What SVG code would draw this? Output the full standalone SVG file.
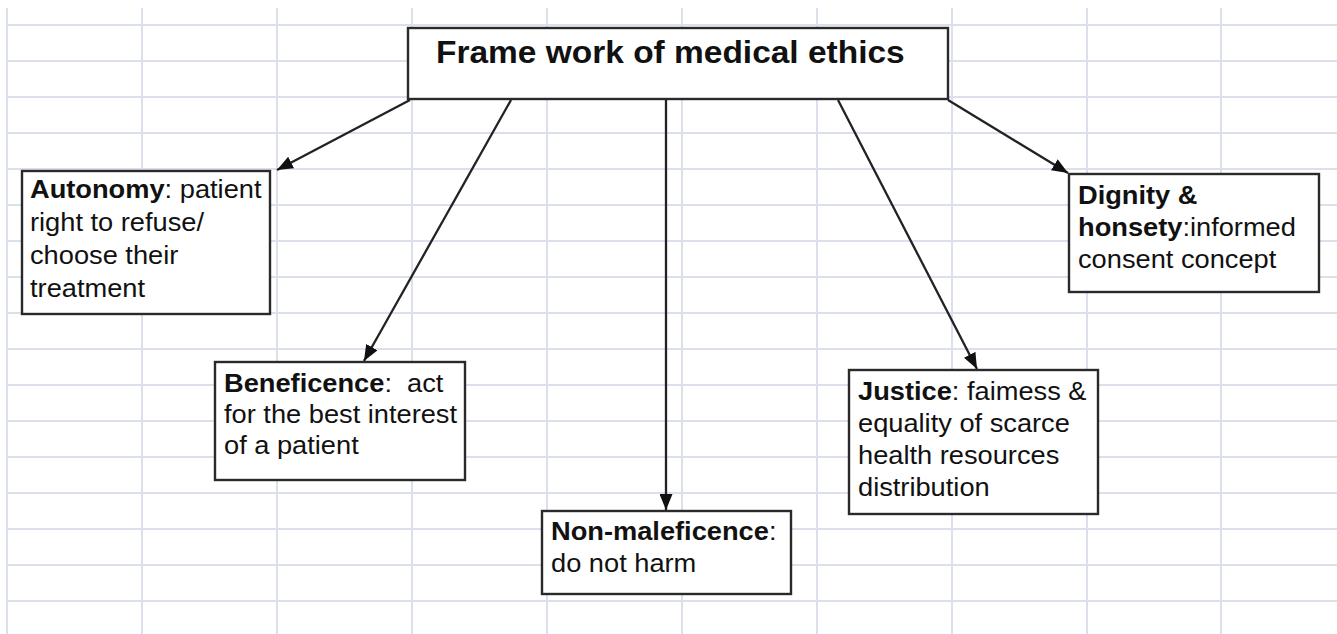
<svg xmlns="http://www.w3.org/2000/svg" width="1337" height="634" viewBox="0 0 1337 634">
  <defs>
    <marker id="arrow" viewBox="0 0 16 13" refX="16" refY="6.5" markerWidth="16" markerHeight="13" markerUnits="userSpaceOnUse" orient="auto">
      <path d="M0,0 L16,6.5 L0,13 z" fill="#111"/>
    </marker>
  </defs>
  <style>
    .grid line { stroke: #dcdfec; stroke-width: 2; }
    .box { fill: #fff; stroke: #2a2a2a; stroke-width: 2.4; }
    .t { font-family: "Liberation Sans", Arial, sans-serif; font-size: 25px; fill: #111; white-space: pre; }
    .title { font-family: "Liberation Sans", Arial, sans-serif; font-size: 31px; font-weight: bold; fill: #111; }
    .b { font-weight: bold; }
    .conn line { stroke: #222; stroke-width: 2.3; marker-end: url(#arrow); }
  </style>

  <rect width="1337" height="634" fill="#fff"/>

  <!-- spreadsheet cell grid -->
  <g class="grid">
    <line x1="7" y1="8" x2="7" y2="634"/>
    <line x1="142" y1="8" x2="142" y2="634"/>
    <line x1="277" y1="8" x2="277" y2="634"/>
    <line x1="412" y1="8" x2="412" y2="634"/>
    <line x1="547" y1="8" x2="547" y2="634"/>
    <line x1="682" y1="8" x2="682" y2="634"/>
    <line x1="817" y1="8" x2="817" y2="634"/>
    <line x1="952" y1="8" x2="952" y2="634"/>
    <line x1="1087" y1="8" x2="1087" y2="634"/>
    <line x1="1221" y1="8" x2="1221" y2="634"/>
    <line x1="7" y1="25" x2="1337" y2="25"/>
    <line x1="7" y1="61" x2="1337" y2="61"/>
    <line x1="7" y1="97" x2="1337" y2="97"/>
    <line x1="7" y1="133" x2="1337" y2="133"/>
    <line x1="7" y1="169" x2="1337" y2="169"/>
    <line x1="7" y1="205" x2="1337" y2="205"/>
    <line x1="7" y1="241" x2="1337" y2="241"/>
    <line x1="7" y1="277" x2="1337" y2="277"/>
    <line x1="7" y1="313" x2="1337" y2="313"/>
    <line x1="7" y1="349" x2="1337" y2="349"/>
    <line x1="7" y1="385" x2="1337" y2="385"/>
    <line x1="7" y1="421" x2="1337" y2="421"/>
    <line x1="7" y1="457" x2="1337" y2="457"/>
    <line x1="7" y1="493" x2="1337" y2="493"/>
    <line x1="7" y1="529" x2="1337" y2="529"/>
    <line x1="7" y1="565" x2="1337" y2="565"/>
    <line x1="7" y1="601" x2="1337" y2="601"/>
  </g>

  <!-- connectors -->
  <g id="connectors" class="conn">
    <line x1="410" y1="100" x2="277" y2="170"/>
    <line x1="511" y1="100" x2="364" y2="361"/>
    <line x1="666" y1="100" x2="666" y2="510"/>
    <line x1="838" y1="100" x2="977" y2="369"/>
    <line x1="948" y1="100" x2="1068" y2="173"/>
  </g>

  <g id="title">
    <rect class="box" x="408" y="28" width="540" height="71"/>
    <text class="title" transform="translate(436 63) scale(1.08 1)" x="0" y="0">Frame work of medical ethics</text>
  </g>

  <g id="autonomy">
    <rect class="box" x="22" y="171" width="248" height="143"/>
    <text class="t" transform="translate(30 0) scale(1.09 1)">
      <tspan x="0" y="198"><tspan class="b">Autonomy</tspan>: patient</tspan>
      <tspan x="0" y="231">right to refuse/</tspan>
      <tspan x="0" y="264">choose their</tspan>
      <tspan x="0" y="297">treatment</tspan>
    </text>
  </g>

  <g id="beneficence">
    <rect class="box" x="215" y="362" width="250" height="118"/>
    <text class="t" transform="translate(224 0) scale(1.09 1)">
      <tspan x="0" y="392"><tspan class="b">Beneficence</tspan>:  act</tspan>
      <tspan x="0" y="423">for the best interest</tspan>
      <tspan x="0" y="454">of a patient</tspan>
    </text>
  </g>

  <g id="non-maleficence">
    <rect class="box" x="542" y="511" width="249" height="83"/>
    <text class="t" transform="translate(551 0) scale(1.09 1)">
      <tspan x="0" y="540"><tspan class="b">Non-maleficence</tspan>:</tspan>
      <tspan x="0" y="572">do not harm</tspan>
    </text>
  </g>

  <g id="justice">
    <rect class="box" x="849" y="370" width="249" height="144"/>
    <text class="t" transform="translate(858 0) scale(1.09 1)">
      <tspan x="0" y="400"><tspan class="b">Justice</tspan>: faimess &amp;</tspan>
      <tspan x="0" y="432">equality of scarce</tspan>
      <tspan x="0" y="464">health resources</tspan>
      <tspan x="0" y="496">distribution</tspan>
    </text>
  </g>

  <g id="dignity">
    <rect class="box" x="1069" y="174" width="250" height="118"/>
    <text class="t" transform="translate(1078 0) scale(1.09 1)">
      <tspan x="0" y="204" class="b">Dignity &amp;</tspan>
      <tspan x="0" y="236"><tspan class="b">honsety</tspan>:informed</tspan>
      <tspan x="0" y="268">consent concept</tspan>
    </text>
  </g>
</svg>
